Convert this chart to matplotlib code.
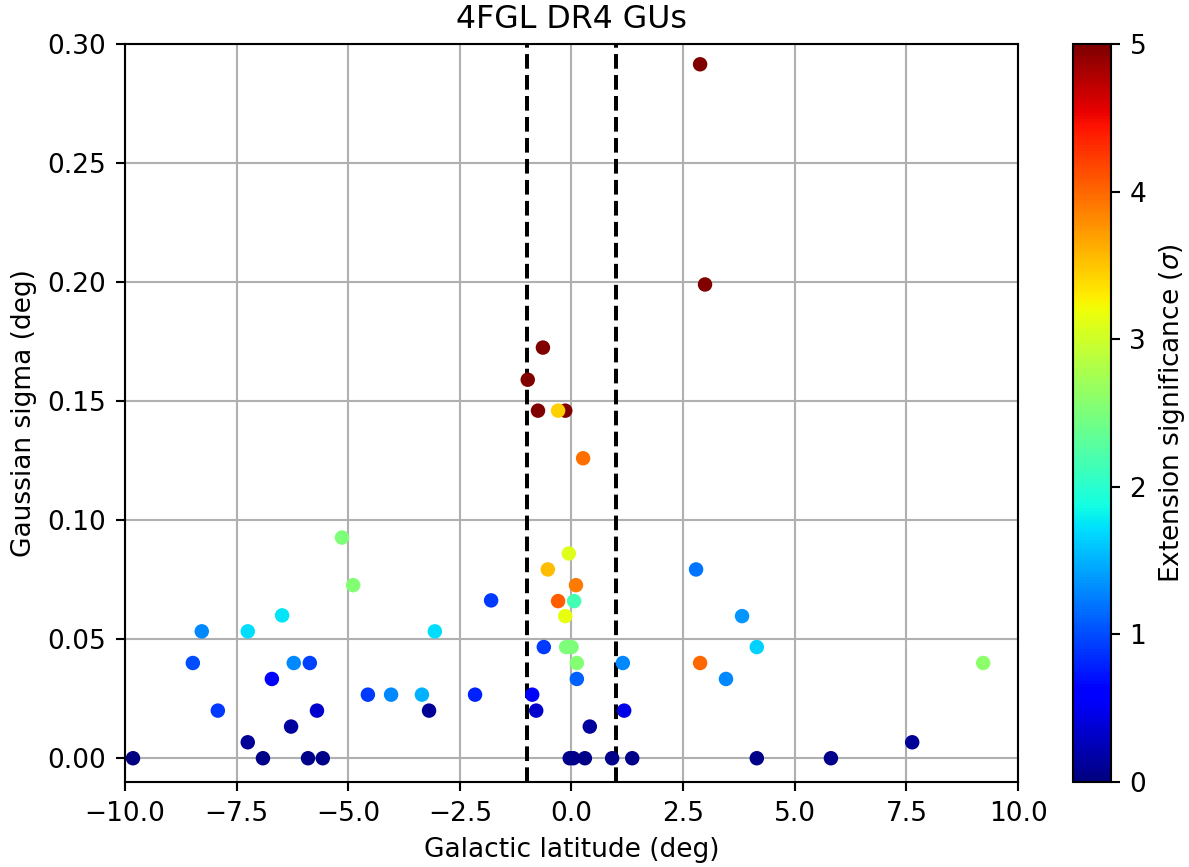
import numpy as np
import matplotlib
matplotlib.use('Agg')
from matplotlib import pyplot as plt

# galactic latitude (deg), gaussian sigma (deg), extension significance (sigma)
glat = [-9.82, -8.48, -8.28, -7.92, -7.25, -7.25, -6.91, -6.71, -6.48, -6.28,
        -6.22, -5.90, -5.86, -5.70, -5.57, -5.14, -4.89, -4.56, -4.04, -3.35,
        -3.19, -3.06, -2.16, -1.80, -0.98, -0.88, -0.79, -0.75, -0.64, -0.62,
        -0.53, -0.30, -0.14, -0.30, -0.14, -0.12, -0.06, -0.04, 0.00, 0.04,
        0.06, 0.10, 0.12, 0.12, 0.26, 0.30, 0.41, 0.91, 1.15, 1.18,
        1.36, 2.79, 2.88, 2.88, 2.99, 3.46, 3.82, 4.15, 4.15, 5.81,
        7.63, 9.22]
sigma = [0.0, 0.040, 0.0533, 0.020, 0.0067, 0.0533, 0.0, 0.0333, 0.060, 0.0133,
         0.040, 0.0, 0.040, 0.020, 0.0, 0.0927, 0.0727, 0.0267, 0.0267, 0.0267,
         0.020, 0.0533, 0.0267, 0.0663, 0.159, 0.0267, 0.020, 0.146, 0.1725, 0.0467,
         0.0793, 0.066, 0.146, 0.146, 0.0597, 0.0467, 0.086, 0.0, 0.0467, 0.0,
         0.066, 0.0727, 0.040, 0.0333, 0.126, 0.0, 0.0133, 0.0, 0.040, 0.020,
         0.0, 0.0793, 0.2915, 0.040, 0.199, 0.0333, 0.0597, 0.0467, 0.0, 0.0,
         0.0067, 0.040]
signif = [0.0, 1.0, 1.3, 0.9, 0.1, 1.7, 0.05, 0.6, 1.75, 0.15,
          1.3, 0.05, 0.95, 0.35, 0.05, 2.5, 2.55, 0.9, 1.3, 1.5,
          0.1, 1.7, 0.8, 0.9, 5.5, 0.6, 0.35, 5.5, 5.5, 0.9,
          3.55, 4.05, 5.5, 3.45, 3.15, 2.5, 3.1, 0.05, 2.5, 0.05,
          2.15, 3.9, 2.55, 1.1, 3.95, 0.05, 0.15, 0.05, 1.3, 0.45,
          0.05, 1.2, 5.5, 4.0, 5.5, 1.3, 1.35, 1.65, 0.05, 0.05,
          0.1, 2.6]

DPI = 190
fig = plt.figure(figsize=(1189/DPI, 867/DPI), dpi=DPI)
ax = fig.add_axes([0.1051, 0.098, 0.7511, 0.8512])
cax = fig.add_axes([0.9024, 0.098, 0.032, 0.8512])

sc = ax.scatter(glat, sigma, c=signif, cmap='jet', vmin=0, vmax=5, s=20, zorder=3)
ax.axvline(-1, color='k', ls='--', zorder=2)
ax.axvline(1, color='k', ls='--', zorder=2)
ax.set_xlim(-10, 10)
ax.set_ylim(-0.01, 0.30)
ax.grid(True, zorder=0)
ax.set_axisbelow(True)
ax.set_xlabel('Galactic latitude (deg)')
ax.set_ylabel('Gaussian sigma (deg)')
ax.set_title('4FGL DR4 GUs')

cb = fig.colorbar(sc, cax=cax)
cb.set_label(r'Extension significance ($\sigma$)')

fig.savefig('out.png', dpi=DPI)
